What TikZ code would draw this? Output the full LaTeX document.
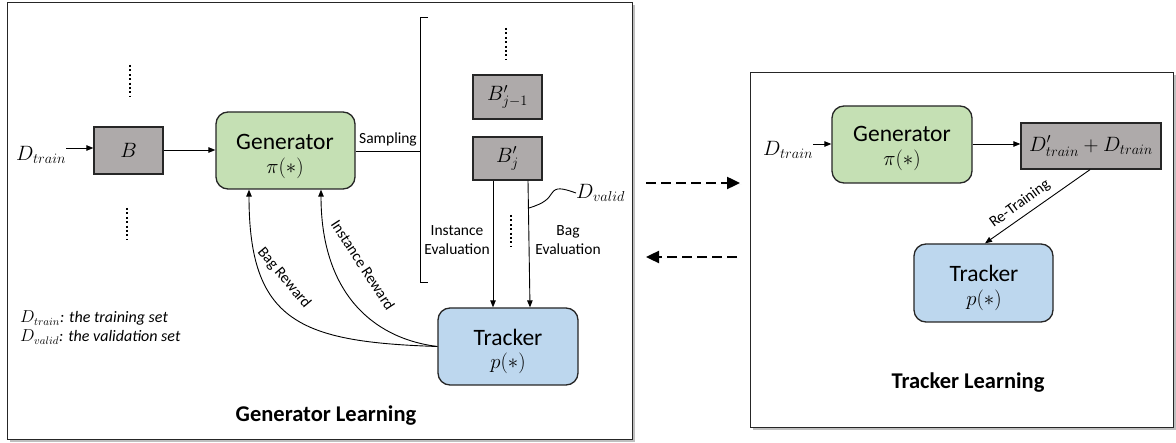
\documentclass[tikz,border=0pt]{standalone}
\usepackage{fontspec}
\setmainfont{Carlito}
\usetikzlibrary{arrows.meta,shadows}
\definecolor{boxgray}{HTML}{AEAAAA}
\definecolor{gengreen}{HTML}{C5E0B4}
\definecolor{trkblue}{HTML}{BDD7EE}
\definecolor{edge}{HTML}{262626}
\tikzset{
  frame/.style={draw=edge,line width=1.2pt,fill=white,drop shadow={opacity=0.5,shadow xshift=2pt,shadow yshift=-2pt}},
  bagbox/.style={draw=edge,line width=1.3pt,fill=boxgray,inner sep=0pt},
  genbox/.style={draw=edge,line width=1.3pt,fill=gengreen,rounded corners=12pt,inner sep=0pt},
  trkbox/.style={draw=edge,line width=1.3pt,fill=trkblue,rounded corners=12pt,inner sep=0pt},
  boxname/.style={inner sep=0pt,font=\fontsize{23.5}{26}\selectfont},
  boxfun/.style={inner sep=0pt,font=\fontsize{19.5}{22}\selectfont},
  conn/.style={draw=black,line width=0.9pt,-{Triangle[length=7pt,width=5.5pt]}},
  plain/.style={draw=black,line width=0.9pt},
  dots/.style={draw=black,line width=2.2pt,dash pattern=on 2pt off 2.4pt},
  bigdash/.style={draw=black,line width=2.4pt,dash pattern=on 10pt off 5pt,-{Triangle[length=13pt,width=12pt]},drop shadow={opacity=0.35,shadow xshift=1.5pt,shadow yshift=-1.5pt}},
  lbl/.style={inner sep=0pt,font=\fontsize{15.5}{18.5}\selectfont},
  leg/.style={anchor=west,inner sep=0pt,font=\fontsize{16}{18}\selectfont},
  ttl/.style={inner sep=0pt,font=\fontsize{22.5}{26}\selectfont\bfseries},
  mathlbl/.style={inner sep=0pt,font=\fontsize{19.5}{22}\selectfont},
}
\begin{document}
\begin{tikzpicture}[x=1pt,y=-1pt]
\useasboundingbox (0,0) rectangle (1176,443);
% frames
\node[frame,minimum width=625pt,minimum height=437pt,anchor=north west,inner sep=0pt] (leftframe) at (7,2) {};
\node[frame,minimum width=423pt,minimum height=355pt,anchor=north west,inner sep=0pt] (rightframe) at (750,72) {};

% ---------- left panel ----------
\node[mathlbl,anchor=west] (dtrainL) at (16,155) {$D_{train}$};
\node[bagbox,minimum width=69pt,minimum height=47pt] (B) at (128.5,150.5) {\fontsize{19.5}{22}\selectfont$B$};
\draw[conn] (dtrainL.east |- 0,148) -- (B.west |- 0,148);
\draw[dots] (130,65) -- (130,96);
\draw[dots] (127,208) -- (127,239);

\node[genbox,minimum width=139pt,minimum height=77pt] (G) at (285.5,150.5) {};
\node[boxname] (Gname) at (285,142) {Generator};
\node[boxfun] (Gfun) at (285,168) {$\pi(*)$};
\draw[conn] (B.east |- 0,150) -- (G.west |- 0,150);

% bracket
\coordinate (brtop) at (428,17);
\coordinate (brbot) at (428,282);
\coordinate (brtip) at (420,151);
\draw[plain] (brtop) -- (420,17) -- (420,282) -- (brbot);
\draw[plain] (G.east |- brtip) -- (brtip);
\node[lbl,anchor=south] (samp) at (388,146) {Sampling};

\draw[dots] (506,28) -- (506,59);
\node[bagbox,minimum width=69pt,minimum height=44pt] (Bj1) at (507.5,97) {\fontsize{19.5}{22}\selectfont$B'_{j-1}$};
\node[bagbox,minimum width=69pt,minimum height=43pt] (Bj) at (507.5,158.5) {\fontsize{19.5}{22}\selectfont$B'_{j}$};
\draw[dots] (511,215) -- (511,246);

\node[trkbox,minimum width=140pt,minimum height=77pt] (T) at (508,346.5) {};
\node[boxname] (Tname) at (508,337) {Tracker};
\node[boxfun] (Tfun) at (508,363) {$p(*)$};
\draw[conn] (Bj.south -| 493,0) -- (T.north -| 493,0);
\draw[conn] (Bj.south -| 528,0) -- (T.north -| 530,0);

\node[lbl,align=center] (ieval) at (457,240) {Instance\\Evaluation};
\node[lbl,align=center] (beval) at (568,240) {Bag\\Evaluation};

\node[mathlbl,anchor=west] (dvalid) at (576,193) {$D_{valid}$};
\coordinate (dv) at (529,208);
\draw[plain] (dv) .. controls (545,203) and (548,199) .. (552,193) .. controls (556,187) and (562,188) .. (dvalid.west);

% rewards
\draw[conn] (T.west) .. controls (300,342) and (249,322) .. (G.south -| 249,0);
\draw[conn] (T.west) .. controls (370,338) and (321,290) .. (G.south -| 321,0);
\node[lbl,rotate=-50] (bagrew) at (284,278) {Bag Reward};
\node[lbl,rotate=-57] (insrew) at (363,265) {Instance Reward};

% legend
\node[leg] (leg1) at (20,318) {$D_{train}$\textit{: the training set}};
\node[leg] (leg2) at (20,337) {$D_{valid}$\textit{: the validation set}};

\node[ttl] (gl) at (326,416) {Generator Learning};

% ---------- middle dashed arrows ----------
\coordinate (da1) at (646,183);
\coordinate (da2) at (740,183);
\coordinate (db1) at (737,257);
\coordinate (db2) at (646,257);
\draw[bigdash] (da1) -- (da2);
\draw[bigdash] (db1) -- (db2);

% ---------- right panel ----------
\node[mathlbl,anchor=west] (dtrainR) at (763,150) {$D_{train}$};
\node[genbox,minimum width=140pt,minimum height=77pt] (G2) at (902,144.5) {};
\node[boxname] (G2name) at (902,134) {Generator};
\node[boxfun] (G2fun) at (902,160) {$\pi(*)$};
\draw[conn] (dtrainR.east |- 0,144) -- (G2.west |- 0,144);
\node[bagbox,minimum width=140pt,minimum height=46pt] (Dp) at (1091,146) {\fontsize{19.5}{22}\selectfont$D'_{train}+D_{train}$};
\draw[conn] (G2.east |- 0,144) -- (Dp.west |- 0,144);
\node[trkbox,minimum width=139pt,minimum height=78pt] (T2) at (983.5,283) {};
\node[boxname] (T2name) at (984,273) {Tracker};
\node[boxfun] (T2fun) at (984,300) {$p(*)$};
\draw[conn] (Dp.south -| 1090,0) -- (T2.north -| 985,0);
\node[lbl,rotate=36] (retr) at (1020,204) {Re-Training};
\node[ttl] (tl) at (968,383) {Tracker Learning};
\end{tikzpicture}
\end{document}
